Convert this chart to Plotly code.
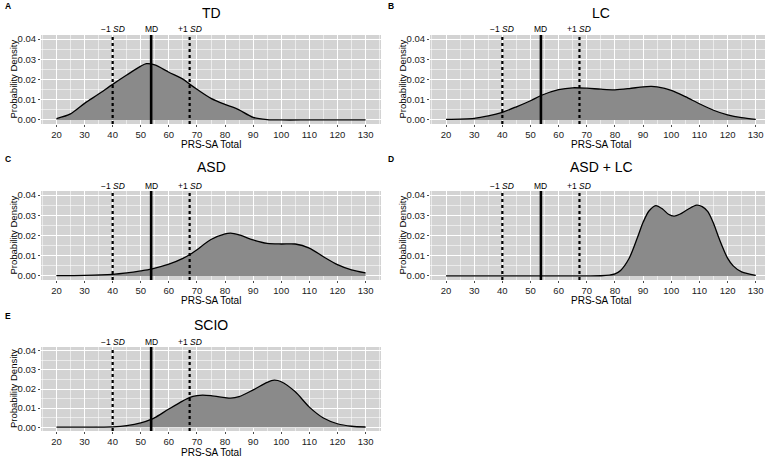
import plotly.graph_objects as go

# ---------------- data ----------------
groups = ["TD", "LC", "ASD", "ASD + LC", "SCIO"]
letters = ["A", "B", "C", "D", "E"]

td_x = [20, 25, 30, 35, 40, 45, 50, 52, 55, 60, 65, 67.5, 70, 75, 80, 83, 85, 90, 95, 100, 110, 120, 130]
td_y = [0.0007, 0.003, 0.0082, 0.0128, 0.0176, 0.0222, 0.0266, 0.0278, 0.0272, 0.0236, 0.0202, 0.0176, 0.0152, 0.0107, 0.0077, 0.0062, 0.0050, 0.0013, 0.0002, 0.0, 0.0, 0.0, 0.0]

lc_x = [20, 30, 35, 40, 45, 50, 53.7, 60, 65, 70, 75, 80, 85, 90, 93, 95, 100, 105, 110, 115, 120, 125, 130]
lc_y = [0.0003, 0.0008, 0.002, 0.0038, 0.0065, 0.0095, 0.0121, 0.0150, 0.0159, 0.0157, 0.0152, 0.0149, 0.0155, 0.0164, 0.0166, 0.0163, 0.0146, 0.0115, 0.0080, 0.0048, 0.0025, 0.0011, 0.0003]

asd_x = [20, 30, 40, 45, 50, 53.7, 60, 65, 67.5, 70, 75, 80, 82, 85, 90, 95, 100, 105, 110, 115, 120, 125, 130]
asd_y = [0.0002, 0.0003, 0.0008, 0.0015, 0.0025, 0.0034, 0.0058, 0.0087, 0.0106, 0.0130, 0.0180, 0.0208, 0.0212, 0.0203, 0.0178, 0.0161, 0.0158, 0.0158, 0.0138, 0.0095, 0.0056, 0.0030, 0.0015]

asdlc_x = [20, 40, 60, 75, 78, 80, 82, 85, 88, 90, 92, 94.5, 97, 99, 101, 103, 106, 109, 111, 113, 115, 117, 120, 122, 125, 130]
asdlc_y = [0.0, 0.0, 0.0, 0.0001, 0.0004, 0.0010, 0.0027, 0.0086, 0.0190, 0.0265, 0.0320, 0.0348, 0.0330, 0.0305, 0.0296, 0.0305, 0.0330, 0.0350, 0.0343, 0.0318, 0.0260, 0.0185, 0.0088, 0.0050, 0.0020, 0.0003]

scio_x = [20, 30, 40, 45, 50, 53.7, 55, 60, 65, 67.5, 70, 72, 75, 80, 82, 85, 90, 95, 97.5, 100, 105, 110, 115, 120, 125, 130]
scio_y = [0.0, 0.0, 0.0002, 0.0008, 0.0022, 0.0041, 0.0050, 0.0095, 0.0138, 0.0156, 0.0165, 0.0168, 0.0165, 0.0155, 0.0152, 0.0160, 0.0195, 0.0235, 0.0246, 0.0238, 0.0185, 0.0105, 0.0048, 0.0018, 0.0005, 0.0001]

series_x = [td_x, lc_x, asd_x, asdlc_x, scio_x]
series_y = [td_y, lc_y, asd_y, asdlc_y, scio_y]

md_value = 53.7
sd_value = 13.7
ref_labels = ["\u22121 <i>SD</i>", "MD", "+1 <i>SD</i>"]

x_ticks = [20, 30, 40, 50, 60, 70, 80, 90, 100, 110, 120, 130]
y_ticks = [0.00, 0.01, 0.02, 0.03, 0.04]

# ---------------- layout geometry ----------------
W, H = 774, 459
FONT = "Liberation Sans, Arial, sans-serif"

def px(x):
    return x / W

def py(y):
    return 1 - y / H

cols = [(41, 381, 211, [14.5, 135.5]), (430, 765, 601, [14.3, 133.3])]
rows = [(35, 124, 6, 13, 29, 144.5), (191, 280, 159, 167, 186, 300.5), (347, 431, 316, 325, 342, 452.5)]
positions = [(0, 0), (0, 1), (1, 0), (1, 1), (2, 0)]

fig = go.Figure()
annotations = []
shapes = []
layout = {}

for i, g in enumerate(groups):
    r, c = positions[i]
    x0, x1, xc, xr = cols[c]
    y0, y1, ylet, ytit, yref_lab, yxt = rows[r]
    sfx = "" if i == 0 else str(i + 1)
    xa, ya = "x" + sfx, "y" + sfx

    fig.add_trace(go.Scatter(
        x=series_x[i], y=series_y[i], mode="lines", xaxis=xa, yaxis=ya,
        line=dict(color="black", width=1.3, shape="spline", smoothing=0.8),
        fill="tozeroy", fillcolor="#8a8a8a", showlegend=False, hoverinfo="skip"))

    common = dict(showline=False, zeroline=False, automargin=False, ticks="outside", ticklen=2,
                  tickwidth=1, tickcolor="#4d4d4d", gridcolor="white", gridwidth=1.1,
                  tickfont=dict(family=FONT, size=9.5, color="#222222"))
    layout["xaxis" + sfx] = dict(domain=[px(x0), px(x1)], range=xr, tickvals=x_ticks,
                                 anchor=ya, **common)
    layout["xaxis" + sfx]["minor"] = dict(showgrid=True, dtick=5, tick0=15,
                                          gridcolor="rgba(255,255,255,0.55)", gridwidth=0.6)
    layout["yaxis" + sfx] = dict(domain=[py(y1), py(y0)], range=[-0.002, 0.042], tickvals=y_ticks,
                                 tickformat=".2f", anchor=xa, **common)
    layout["yaxis" + sfx]["minor"] = dict(showgrid=True, dtick=0.005, tick0=0.005,
                                          gridcolor="rgba(255,255,255,0.55)", gridwidth=0.6)

    # reference lines
    ref_vals = [md_value - sd_value, md_value, md_value + sd_value]
    for k, v in enumerate(ref_vals):
        shapes.append(dict(type="line", xref=xa, yref=ya + " domain", x0=v, x1=v, y0=0, y1=1,
                           line=dict(color="black", width=2.6 if k == 1 else 2.2,
                                     dash="solid" if k == 1 else "dot"), layer="above"))
        annotations.append(dict(x=v, xref=xa, y=py(yref_lab), yref="paper", text=ref_labels[k],
                                showarrow=False, font=dict(family=FONT, size=8.5, color="black"),
                                xanchor="center", yanchor="middle", borderpad=0))

    # panel title and letter
    annotations.append(dict(x=px(xc), y=py(ytit), xref="paper", yref="paper", text=g,
                            showarrow=False, font=dict(family=FONT, size=14, color="black"),
                            xanchor="center", yanchor="middle", borderpad=0))
    annotations.append(dict(x=px(4) if c == 0 else px(387), y=py(ylet),
                            xref="paper", yref="paper", text="<b>" + letters[i] + "</b>",
                            showarrow=False, font=dict(family=FONT, size=8.5, color="black"),
                            xanchor="left", yanchor="middle", borderpad=0))
    # axis titles
    annotations.append(dict(x=px(xc), y=py(yxt), xref="paper", yref="paper", text="PRS-SA Total",
                            showarrow=False, font=dict(family=FONT, size=10, color="black"),
                            xanchor="center", yanchor="middle", borderpad=0))
    annotations.append(dict(x=px(x0 - 28), y=py((y0 + y1) / 2), xref="paper", yref="paper",
                            text="Probability Density", textangle=-90, showarrow=False,
                            font=dict(family=FONT, size=9.5, color="black"),
                            xanchor="center", yanchor="middle", borderpad=0))

for i in range(5):
    r, c = positions[i]
    x0, x1, xc, xr = cols[c]
    y0, y1 = rows[r][0], rows[r][1]
    shapes.append(dict(type="rect", xref="paper", yref="paper", x0=px(x0), x1=px(x1),
                       y0=py(y1), y1=py(y0), fillcolor="#d3d3d3", line=dict(width=0), layer="below"))

fig.update_layout(width=W, height=H, margin=dict(l=0, r=0, t=0, b=0, autoexpand=False),
                  paper_bgcolor="white", plot_bgcolor="rgba(0,0,0,0)",
                  font=dict(family=FONT), annotations=annotations, shapes=shapes, **layout)

fig.write_html("out.html", config={"displayModeBar": False},
               post_script="document.body.style.margin='0';document.body.style.padding='0';")
